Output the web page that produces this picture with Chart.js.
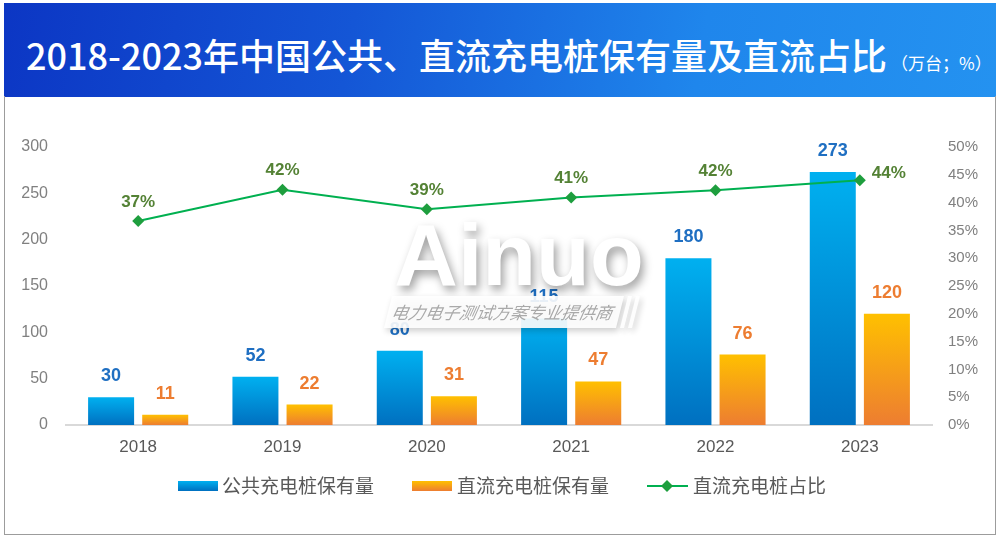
<!DOCTYPE html>
<html>
<head>
<meta charset="utf-8">
<script src="https://cdn.jsdelivr.net/npm/chart.js@4/dist/chart.umd.min.js"></script>
<style>
  html,body{margin:0;padding:0;background:#fff;}
  #wrap{position:relative;width:1000px;height:540px;overflow:hidden;background:#fff;}
  #header{position:absolute;left:4px;top:3px;width:992px;height:94px;
    background:linear-gradient(100deg,#0c36c4 0%,#1456d6 35%,#1f86ec 70%,#2492f0 100%);}
  #title{position:absolute;left:22px;top:26px;color:#fff;white-space:nowrap;
    font-family:"Noto Sans CJK SC","Noto Sans",sans-serif;font-weight:500;font-size:36px;line-height:50px;}
  #title small{font-size:17px;font-weight:400;margin-left:4px;}
  #box{position:absolute;left:4px;top:96px;width:990px;height:438px;border:1px solid #9c9c9c;border-top:none;}
  #cv{position:absolute;left:0;top:97px;}
</style>
</head>
<body>
<div id="wrap">
  <div id="header"><div id="title">2018-2023年中国公共、直流充电桩保有量及直流占比<small>（万台；%）</small></div></div>
  <div id="box"></div>
  <canvas id="cv" width="1000" height="440" style="width:1000px;height:440px"></canvas>
</div>
<script>
const years = ['2018','2019','2020','2021','2022','2023'];
const publicPiles = [30, 52, 80, 115, 180, 273];
const dcPiles = [11, 22, 31, 47, 76, 120];
const dcShare = [0.367, 0.423, 0.388, 0.409, 0.422, 0.440];
const shareLabels = ['37%','42%','39%','41%','42%','44%'];
const seriesNames = ['公共充电桩保有量','直流充电桩保有量','直流充电桩占比'];
const leftTicksMax = 300, rightTicksMax = 0.5;

const NUM_FONT = '"Liberation Sans", Arial, sans-serif';
const CJK_FONT = '"Noto Sans CJK SC", "Noto Sans", sans-serif';

function barGradient(top, bottom) {
  return function(c) {
    const chart = c.chart;
    if (!chart.chartArea || c.type !== 'data') return top;
    const ys = chart.scales.y;
    const y0 = ys.getPixelForValue(c.raw);
    const y1 = ys.getPixelForValue(0);
    const g = chart.ctx.createLinearGradient(0, y0, 0, y1);
    g.addColorStop(0, top);
    g.addColorStop(1, bottom);
    return g;
  };
}

const labelPlugin = {
  id: 'valueLabels',
  afterDatasetsDraw(chart) {
    const ctx = chart.ctx;
    ctx.save();
    ctx.textAlign = 'center';
    ctx.textBaseline = 'middle';
    [[0, '#1f6fc2', publicPiles], [1, '#ed7d31', dcPiles]].forEach(([di, col, vals]) => {
      const meta = chart.getDatasetMeta(di);
      ctx.fillStyle = col;
      ctx.font = 'bold 18px ' + NUM_FONT;
      meta.data.forEach((el, i) => {
        ctx.fillText(String(vals[i]), el.x, el.y - 21);
      });
    });
    const lm = chart.getDatasetMeta(2);
    ctx.fillStyle = '#548235';
    ctx.font = 'bold 17px ' + NUM_FONT;
    lm.data.forEach((el, i) => {
      if (i === lm.data.length - 1) {
        ctx.textAlign = 'left';
        ctx.fillText(shareLabels[i], el.x + 12, el.y - 7);
        ctx.textAlign = 'center';
      } else {
        ctx.fillText(shareLabels[i], el.x, el.y - 19);
      }
    });
    ctx.restore();
  }
};

const legendPlugin = {
  id: 'customLegend',
  afterDraw(chart) {
    const ctx = chart.ctx;
    const y = 389;
    ctx.save();
    ctx.font = '19px ' + CJK_FONT;
    ctx.textBaseline = 'middle';
    ctx.textAlign = 'left';
    let g = ctx.createLinearGradient(0, y - 5, 0, y + 5);
    g.addColorStop(0, '#00b0f0'); g.addColorStop(1, '#0070c0');
    ctx.fillStyle = g; ctx.fillRect(178, y - 5, 40, 10);
    ctx.fillStyle = '#595959'; ctx.fillText(seriesNames[0], 222, y);
    g = ctx.createLinearGradient(0, y - 5, 0, y + 5);
    g.addColorStop(0, '#ffc000'); g.addColorStop(1, '#ed7d31');
    ctx.fillStyle = g; ctx.fillRect(412, y - 5, 40, 10);
    ctx.fillStyle = '#595959'; ctx.fillText(seriesNames[1], 457, y);
    ctx.strokeStyle = '#00b050'; ctx.lineWidth = 2;
    ctx.beginPath(); ctx.moveTo(647, y); ctx.lineTo(688, y); ctx.stroke();
    ctx.fillStyle = '#1e9e3e';
    ctx.beginPath(); ctx.moveTo(667, y - 6); ctx.lineTo(673, y); ctx.lineTo(667, y + 6); ctx.lineTo(661, y); ctx.closePath(); ctx.fill();
    ctx.fillStyle = '#595959'; ctx.fillText(seriesNames[2], 693, y);
    ctx.restore();
  }
};

const watermarkPlugin = {
  id: 'watermark',
  afterDraw(chart) {
    const ctx = chart.ctx;
    ctx.save();
    ctx.font = 'bold 88px ' + NUM_FONT;
    ctx.textAlign = 'center';
    ctx.textBaseline = 'alphabetic';
    ctx.shadowColor = 'rgba(0,0,0,0.38)';
    ctx.shadowBlur = 10;
    ctx.shadowOffsetX = 3;
    ctx.shadowOffsetY = 5;
    ctx.fillStyle = '#ffffff';
    ctx.fillText('Ainuo', 519, 188);
    ctx.shadowColor = 'rgba(0,0,0,0.22)';
    ctx.shadowBlur = 6;
    ctx.shadowOffsetX = 2;
    ctx.shadowOffsetY = 3;
    ctx.fillStyle = 'rgba(255,255,255,0.9)';
    ctx.beginPath();
    ctx.moveTo(392, 199); ctx.lineTo(624, 199); ctx.lineTo(616, 231); ctx.lineTo(384, 231); ctx.closePath(); ctx.fill();
    ctx.beginPath();
    ctx.moveTo(628, 199); ctx.lineTo(632, 199); ctx.lineTo(624, 231); ctx.lineTo(620, 231); ctx.closePath(); ctx.fill();
    ctx.beginPath();
    ctx.moveTo(636, 199); ctx.lineTo(640, 199); ctx.lineTo(632, 231); ctx.lineTo(628, 231); ctx.closePath(); ctx.fill();
    ctx.shadowColor = 'transparent';
    ctx.fillStyle = '#a9a9a9';
    ctx.font = 'italic 17px ' + CJK_FONT;
    ctx.textBaseline = 'middle';
    ctx.save();
    ctx.translate(502, 216);
    ctx.transform(1, 0, -0.2, 1, 0, 0);
    ctx.fillText('电力电子测试方案专业提供商', 0, 0);
    ctx.restore();
    ctx.restore();
  }
};

new Chart(document.getElementById('cv'), {
  type: 'bar',
  data: {
    labels: years,
    datasets: [
      { label: seriesNames[0], data: publicPiles, yAxisID: 'y', order: 2,
        backgroundColor: barGradient('#00b0f0', '#0070c0'),
        categoryPercentage: 0.75, barPercentage: 0.85 },
      { label: seriesNames[1], data: dcPiles, yAxisID: 'y', order: 2,
        backgroundColor: barGradient('#ffc000', '#ed7d31'),
        categoryPercentage: 0.75, barPercentage: 0.85 },
      { type: 'line', label: seriesNames[2], data: dcShare, yAxisID: 'y2', order: 1,
        borderColor: '#00b050', borderWidth: 2, tension: 0,
        pointStyle: 'rectRot', pointRadius: 6, pointBackgroundColor: '#1e9e3e',
        pointBorderColor: '#1e9e3e', pointBorderWidth: 0 }
    ]
  },
  options: {
    responsive: false,
    animation: false,
    devicePixelRatio: 1,
    layout: { padding: { top: 50, bottom: 72, left: 0, right: 0 } },
    plugins: { legend: { display: false }, tooltip: { enabled: false }, title: { display: false } },
    scales: {
      x: {
        grid: { display: false, drawTicks: false },
        border: { display: true, color: '#d9d9d9', width: 2 },
        ticks: { color: '#595959', font: { family: NUM_FONT, size: 17 }, padding: 12 },
        afterFit(s) { s.height = 40; }
      },
      y: {
        position: 'left', min: 0, max: leftTicksMax,
        grid: { display: false, drawTicks: false },
        border: { display: false },
        ticks: { stepSize: 50, color: '#808080', font: { family: NUM_FONT, size: 16 }, padding: 18 },
        afterFit(s) { s.width = 66; }
      },
      y2: {
        position: 'right', min: 0, max: rightTicksMax,
        grid: { display: false, drawTicks: false },
        border: { display: false },
        ticks: { stepSize: 0.05, color: '#808080', font: { family: NUM_FONT, size: 15 }, padding: 16,
          callback: v => Math.round(v * 100) + '%' },
        afterFit(s) { s.width = 68; }
      }
    }
  },
  plugins: [labelPlugin, legendPlugin, watermarkPlugin]
});
</script>
</body>
</html>
